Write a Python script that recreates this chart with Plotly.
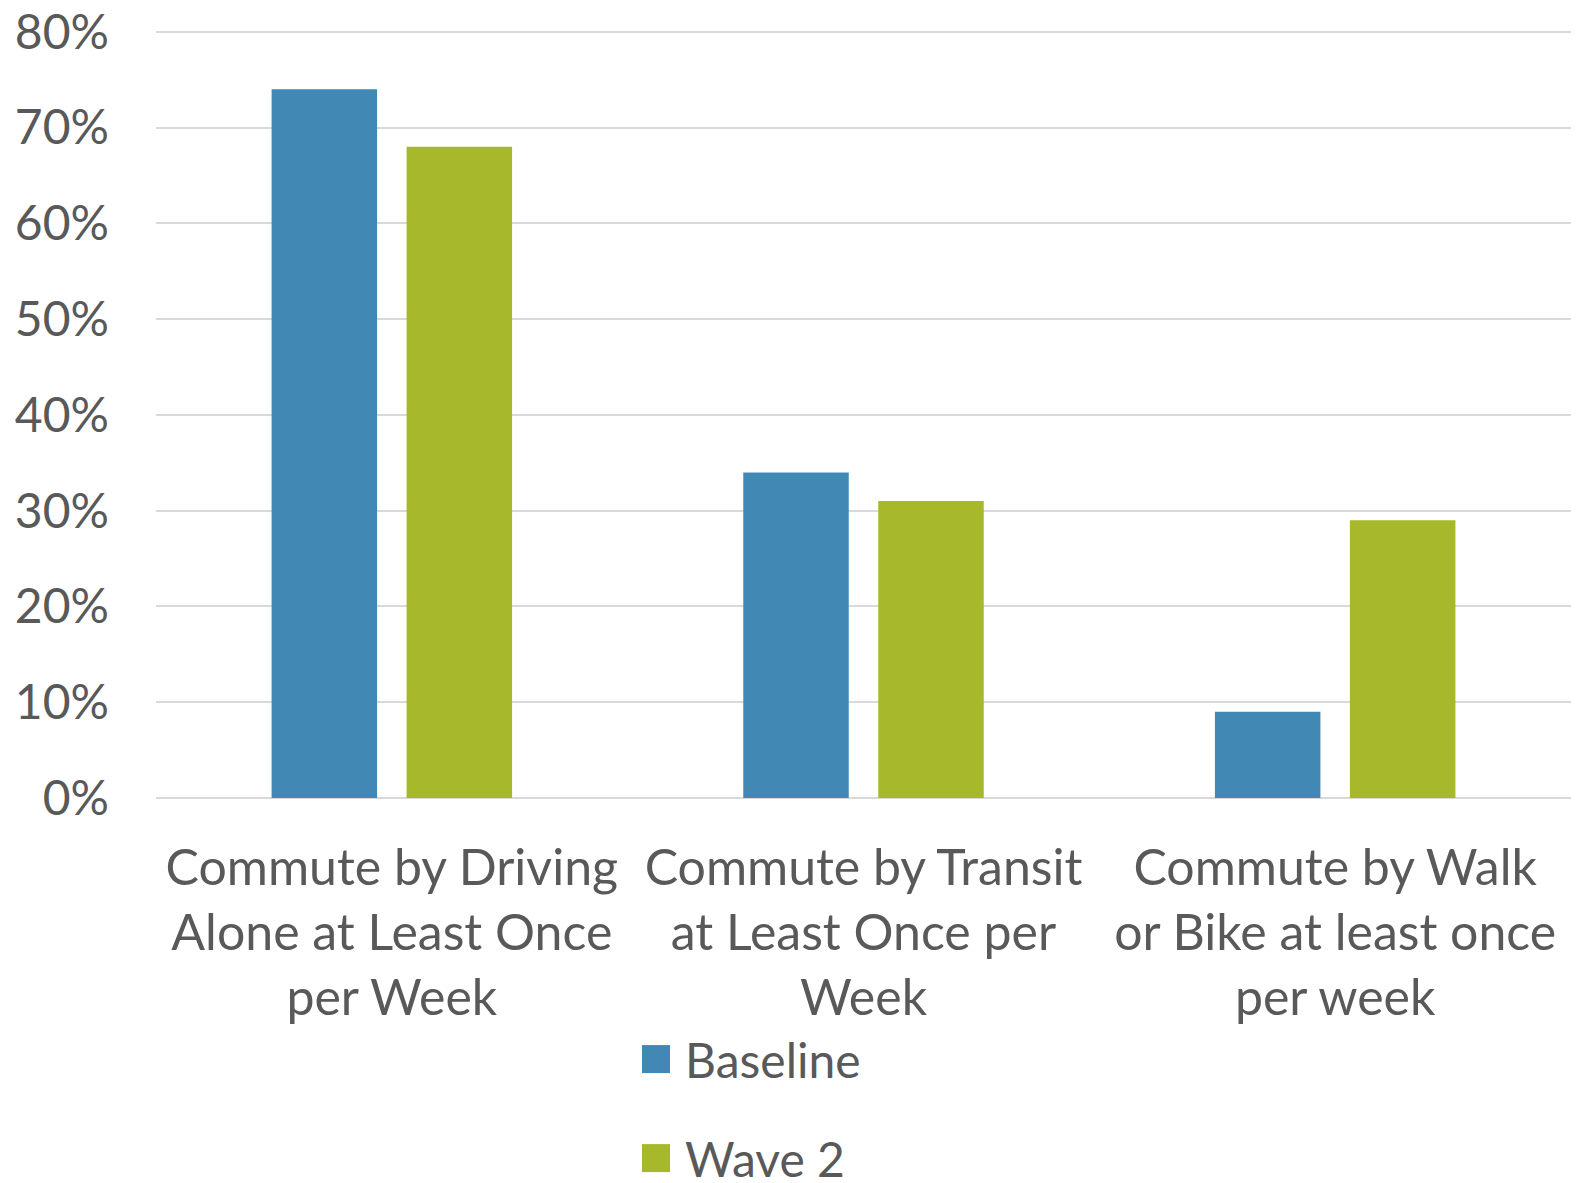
import plotly.graph_objects as go

# Share of respondents by commute mode, two survey waves
categories = [
    "Commute by Driving<br>Alone at Least Once<br>per Week",
    "Commute by Transit<br>at Least Once per<br>Week",
    "Commute by Walk<br>or Bike at least once<br>per week",
]
baseline = [74, 34, 9]
wave2 = [68, 31, 29]
series_names = ["Baseline", "Wave 2"]
series_colors = ["#4189b4", "#a7b82a"]
y_ticks = [0, 10, 20, 30, 40, 50, 60, 70, 80]
y_tick_labels = [f"{v}%" for v in y_ticks]

FONT = "Lato, 'Open Sans', sans-serif"
TEXT = "#595959"

W, H = 1591, 1183
ML, MR, MT, MB = 156, 20, 28.2, 385

fig = go.Figure()
for name, vals, color in zip(series_names, [baseline, wave2], series_colors):
    fig.add_trace(go.Bar(
        x=categories, y=vals, name=name,
        marker=dict(color=color, line=dict(width=0)),
        showlegend=False,
    ))

fig.update_layout(
    width=W, height=H,
    margin=dict(l=ML, r=MR, t=MT, b=MB, pad=0, autoexpand=False),
    paper_bgcolor="white", plot_bgcolor="white",
    barmode="group", bargap=0.4276, bargroupgap=0.2185,
    font=dict(family=FONT, color=TEXT, size=48),
    xaxis=dict(
        tickfont=dict(size=50, color=TEXT),
        showgrid=False, showline=False, ticks="",
        ticklabelstandoff=36, automargin=False,
    ),
    yaxis=dict(
        # a little headroom so the 80% gridline stays inside the plot area
        range=[0, 80.4], tickvals=y_ticks, ticktext=y_tick_labels,
        tickfont=dict(size=48, color=TEXT),
        showgrid=True, gridcolor="#d9d9d9", gridwidth=2,
        zeroline=True, zerolinecolor="#d9d9d9", zerolinewidth=2,
        showline=False, ticks="", ticklabelstandoff=46, automargin=False,
    ),
)


def px_to_paper_x(px):
    return (px - ML) / (W - ML - MR)


def px_to_paper_y(py):
    return (H - MB - py) / (H - MT - MB)


# Legend: colour swatches with labels, stacked below the category labels
legend_rows = [1059, 1158]
for name, color, yc in zip(series_names, series_colors, legend_rows):
    fig.add_shape(type="rect", xref="paper", yref="paper",
                  x0=px_to_paper_x(642), x1=px_to_paper_x(670),
                  y0=px_to_paper_y(yc + 14), y1=px_to_paper_y(yc - 14),
                  fillcolor=color, line=dict(width=0))
    fig.add_annotation(xref="paper", yref="paper",
                       x=px_to_paper_x(683), y=px_to_paper_y(yc),
                       text=name, showarrow=False,
                       xanchor="left", yanchor="middle",
                       font=dict(size=48, color=TEXT, family=FONT))

fig.write_html("out.html")
